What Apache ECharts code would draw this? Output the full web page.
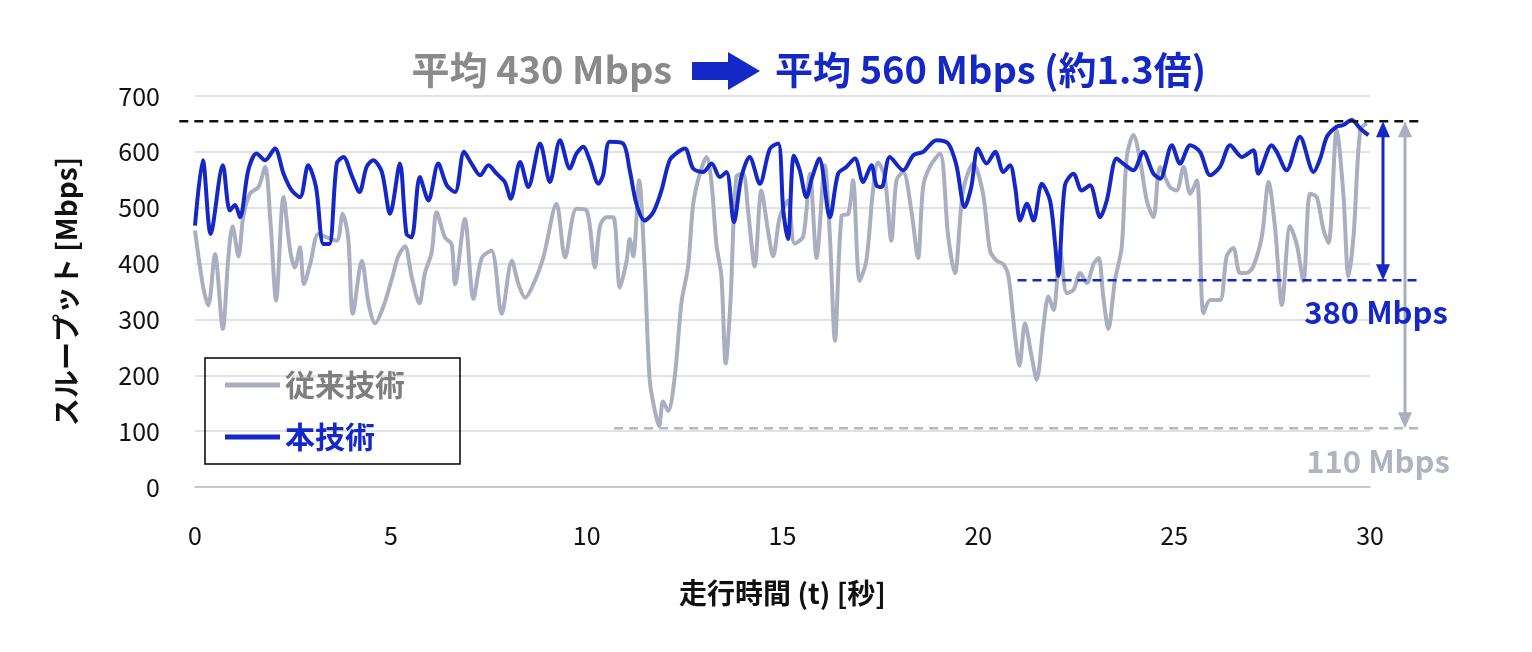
<!DOCTYPE html>
<html>
<head>
<meta charset="utf-8">
<script src="https://cdn.jsdelivr.net/npm/echarts@6/dist/echarts.min.js"></script>
<style>html,body{margin:0;background:#fff}#main{width:1532px;height:652px}</style>
</head>
<body>
<div id="main"></div>
<script>
// 従来技術 (gray)
const oldT = [0,0.21,0.34,0.51,0.71,0.85,0.96,1.11,1.23,1.40,1.62,1.79,1.93,2.07,2.26,2.43,2.55,2.68,2.78,2.94,3.15,3.36,3.62,3.77,3.91,4.03,4.26,4.43,4.60,4.81,5.02,5.19,5.36,5.53,5.73,5.87,6.04,6.17,6.38,6.55,6.64,6.89,7.11,7.32,7.57,7.83,8.09,8.26,8.43,8.64,8.89,9.23,9.45,9.74,10.0,
  10.21,10.34,10.51,10.68,10.85,11.02,11.10,11.19,11.34,11.48,11.61,11.74,11.85,11.95,12.08,12.25,12.42,12.59,12.72,12.89,13.06,13.19,13.31,13.44,13.55,13.67,13.82,13.99,14.12,14.29,14.46,14.63,14.76,14.93,15.14,15.31,15.53,15.70,15.87,16.08,16.21,16.34,16.51,16.68,16.80,16.97,17.14,17.31,17.44,17.61,17.78,17.91,18.08,18.29,18.46,18.59,18.76,19.02,19.23,19.40,19.61,19.87,20.12,20.30,
  20.47,20.64,20.77,20.94,21.05,21.19,21.36,21.49,21.66,21.79,21.92,22.09,22.26,22.43,22.60,22.77,22.94,23.07,23.19,23.32,23.49,23.66,23.79,23.96,24.13,24.30,24.47,24.64,24.89,25.06,25.24,25.41,25.58,25.75,25.92,26.17,26.34,26.51,26.68,26.85,27.02,27.24,27.41,27.58,27.75,27.96,28.13,28.30,28.47,28.64,28.81,28.94,29.15,29.32,29.45,29.58,29.75,29.92];
const oldV = [459,357,325,417,283,410,467,413,483,525,537,573,471,334,519,423,393,429,363,399,453,447,441,489,447,310,405,329,293,323,371,413,431,377,329,383,419,492,447,435,363,480,337,410,423,310,405,363,339,363,410,507,411,498,495,
  393,467,483,483,357,405,444,413,549,395,191,137,109,153,136,198,330,395,507,561,591,543,436,377,221,330,555,561,495,395,531,459,413,483,513,436,449,561,410,576,449,262,486,489,549,369,405,531,581,555,441,549,564,495,410,537,573,597,449,383,531,579,525,423,
  405,399,377,269,217,293,234,192,287,341,317,423,347,353,383,365,399,410,341,283,371,429,591,630,585,513,483,573,537,531,573,525,549,311,335,335,413,428,383,383,395,449,546,461,326,467,434,369,525,519,461,437,639,525,377,449,639,651];
// 本技術 (blue)
const newT = [0,0.2,0.4,0.71,0.89,1.02,1.15,1.36,1.57,1.79,2.04,2.26,2.47,2.68,2.89,3.09,3.28,3.43,3.62,3.79,4.0,4.2,4.38,4.55,4.77,4.98,5.23,5.4,5.53,5.74,5.96,6.21,6.43,6.64,6.87,7.06,7.28,7.49,7.70,7.91,8.06,8.30,8.51,8.81,9.06,9.32,9.57,9.74,9.91,
  10.08,10.30,10.42,10.59,10.93,11.10,11.27,11.48,11.70,11.91,12.12,12.34,12.51,12.72,12.97,13.19,13.40,13.57,13.76,13.95,14.16,14.42,14.68,14.89,15.02,15.14,15.29,15.44,15.61,15.76,15.94,16.21,16.42,16.63,16.85,17.06,17.27,17.40,17.53,17.74,18.08,18.34,18.59,18.93,19.23,19.44,19.65,19.82,19.99,20.21,
  20.43,20.64,20.81,20.94,21.07,21.24,21.41,21.62,21.83,21.96,22.04,22.21,22.43,22.64,22.85,23.11,23.28,23.53,23.70,23.96,24.21,24.47,24.64,24.94,25.15,25.41,25.66,25.92,26.17,26.43,26.73,27.02,27.15,27.49,27.62,27.87,28.21,28.56,28.73,28.90,29.15,29.32,29.53,29.75,29.96];
const newV = [468,585,453,576,495,505,483,567,597,585,606,561,531,519,576,537,435,435,579,591,558,528,573,585,564,489,579,453,447,555,513,579,540,528,600,579,558,576,561,546,516,582,537,615,546,621,570,597,609,
  585,543,558,618,615,567,507,477,492,531,585,600,606,570,564,579,555,564,474,555,591,543,606,615,495,444,593,567,519,555,588,483,561,573,588,546,576,540,537,591,567,594,600,621,615,576,501,537,606,579,
  600,564,576,537,477,507,477,543,513,435,378,540,561,531,540,483,513,588,579,567,600,561,552,612,579,612,600,558,573,612,591,603,561,612,600,567,627,564,588,627,645,648,657,642,630];
const xTicks = [0, 5, 10, 15, 20, 25, 30];
const peakLine = 655, newMin = 370, oldMin = 105;

const FONT = '"Noto Sans CJK JP", sans-serif';
const BLUE = '#1428c8', GRAY = '#a9afc0';
const pair = (t, v) => t.map((x, i) => [x, v[i]]);

const chart = echarts.init(document.getElementById('main'));
chart.setOption({
  animation: false,
  textStyle: {fontFamily: FONT},
  grid: {left: 195, right: 162, top: 96, bottom: 165},
  legend: {
    orient: 'vertical', left: 205, top: 358, width: 250,
    padding: [12, 55, 12, 20], itemGap: 22,
    borderColor: '#000', borderWidth: 1.5,
    itemWidth: 55, itemHeight: 5, icon: 'rect',
    textStyle: {fontSize: 30, fontWeight: 'bold', fontFamily: FONT},
    data: [
      {name: '従来技術', textStyle: {color: '#7f7f7f'}},
      {name: '本技術', textStyle: {color: BLUE}}
    ]
  },
  xAxis: {
    type: 'value', min: 0, max: 30, interval: 5,
    name: '走行時間 (t) [秒]', nameLocation: 'middle', nameGap: 92,
    nameTextStyle: {fontSize: 28, fontWeight: 'bold', color: '#111', fontFamily: FONT},
    axisLine: {lineStyle: {color: '#bfbfbf', width: 1.5}},
    axisTick: {show: false},
    splitLine: {show: false},
    axisLabel: {fontSize: 25, color: '#111', margin: 36, fontFamily: FONT, customValues: xTicks}
  },
  yAxis: {
    type: 'value', min: 0, max: 700, interval: 100,
    name: 'スループット [Mbps]', nameLocation: 'middle', nameGap: 115, nameRotate: 90,
    nameTextStyle: {fontSize: 28, fontWeight: 'bold', color: '#111', fontFamily: FONT},
    axisLine: {show: false}, axisTick: {show: false},
    splitLine: {lineStyle: {color: '#d9d9d9', width: 1.5}},
    axisLabel: {fontSize: 25, color: '#111', margin: 35, fontFamily: FONT}
  },
  series: [
    {name: '従来技術', type: 'line', data: pair(oldT, oldV), showSymbol: false, smooth: 0.3,
     lineStyle: {color: GRAY, width: 4}, itemStyle: {color: GRAY}, z: 2},
    {name: '本技術', type: 'line', data: pair(newT, newV), showSymbol: false, smooth: 0.3,
     lineStyle: {color: BLUE, width: 4}, itemStyle: {color: BLUE}, z: 3}
  ]
});

// annotations
const px = (t, v) => chart.convertToPixel({gridIndex: 0}, [t, v]);
const yPeak = px(0, peakLine)[1], yNew = px(0, newMin)[1], yOld = px(0, oldMin)[1];
const xEnd = 1422;
const hline = (x1, y, color) => ({type: 'line', shape: {x1, y1: y, x2: xEnd, y2: y},
  style: {stroke: color, lineWidth: 2.5, lineDash: [9, 6]}, z: 10});
const arrow = (x, y1, y2, color) => [
  {type: 'line', shape: {x1: x, y1: y1 + 10, x2: x, y2: y2 - 10}, style: {stroke: color, lineWidth: 3}, z: 10},
  {type: 'polygon', shape: {points: [[x, y1], [x - 7, y1 + 16], [x + 7, y1 + 16]]}, style: {fill: color}, z: 10},
  {type: 'polygon', shape: {points: [[x, y2], [x - 7, y2 - 16], [x + 7, y2 - 16]]}, style: {fill: color}, z: 10}
];
const txt = (x, y, s, color, align, size) => ({type: 'text', x, y,
  style: {text: s, fill: color, font: 'bold ' + (size || 30) + 'px ' + FONT, align: align || 'left', verticalAlign: 'middle'}, z: 11});

chart.setOption({
  graphic: [
    hline(px(-0.4, 0)[0], yPeak, '#111'),
    hline(px(21, 0)[0], yNew, BLUE),
    hline(px(10.7, 0)[0], yOld, '#b4b8c6'),
    ...arrow(1383, yPeak, yNew, BLUE),
    ...arrow(1405, yPeak, yOld, GRAY),
    txt(1376, 312, '380 Mbps', BLUE, 'center', 31),
    txt(1378, 461, '110 Mbps', '#b0b4c0', 'center', 31),
    txt(672, 70, '平均 430 Mbps', '#8a8a8a', 'right', 38),
    {type: 'polygon', shape: {points: [[692, 62], [728, 62], [728, 52], [760, 71], [728, 90], [728, 80], [692, 80]]},
     style: {fill: BLUE}},
    txt(775, 70, '平均 560 Mbps (約1.3倍)', BLUE, 'left', 38)
  ]
});
</script>
</body>
</html>
